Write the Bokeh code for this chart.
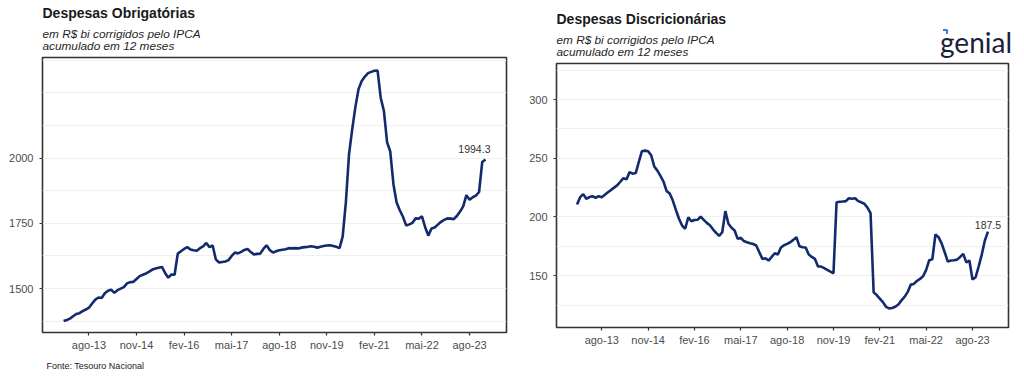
import pandas as pd
from bokeh.plotting import figure
from bokeh.layouts import row, column
from bokeh.models import ColumnDataSource, FixedTicker, Range1d, Label
from bokeh.core.properties import value
from bokeh.embed import file_html
from bokeh.resources import INLINE

# ---------------- data ----------------
dates = pd.date_range("2012-12-01", "2024-01-01", freq="MS")  # 134 months

obrigatorias = [
    1376, 1380, 1385, 1394, 1403, 1406, 1414, 1420, 1427, 1443,
    1458, 1466, 1464, 1482, 1492, 1496, 1484, 1494, 1500, 1506,
    1520, 1525, 1526, 1537, 1548, 1553, 1558, 1565, 1573, 1577,
    1580, 1583, 1560, 1542, 1554, 1553, 1634, 1643, 1652, 1659,
    1650, 1647, 1645, 1655, 1662, 1675, 1659, 1665, 1612, 1600,
    1602, 1604, 1609, 1625, 1638, 1635, 1641, 1648, 1652, 1640,
    1631, 1633, 1634, 1652, 1666, 1648, 1638, 1643, 1647, 1649,
    1651, 1655, 1654, 1655, 1654, 1657, 1659, 1660, 1662, 1660,
    1657, 1660, 1663, 1665, 1666, 1663, 1660, 1655, 1700, 1830,
    2015, 2110, 2195, 2264, 2295, 2312, 2325, 2330, 2334, 2335,
    2230, 2180, 2060, 2025, 1900, 1830, 1800, 1775, 1742, 1746,
    1752, 1769, 1768, 1777, 1735, 1703, 1730, 1734, 1745, 1756,
    1763, 1769, 1768, 1766, 1778, 1795, 1815, 1858, 1840, 1850,
    1856, 1870, 1985, 1994.3,
]

discricionarias = [
    210.7, 216.9, 219.5, 215.5, 217.0, 217.7, 216.4, 217.7, 216.9, 219.0,
    221.0, 223.0, 225.0, 227.0, 230.0, 233.1, 232.0, 238.2, 236.9, 237.4,
    247.0, 256.0, 256.5, 256.0, 252.5, 243.0, 239.5, 235.0, 230.0, 222.0,
    220.0, 214.0, 206.0, 198.5, 192.7, 190.0, 199.8, 196.4, 197.5, 197.6,
    200.4, 197.5, 195.0, 193.0, 189.5, 186.5, 184.0, 187.0, 205.0, 194.2,
    190.8, 188.5, 181.4, 182.3, 179.5, 178.5, 177.6, 177.0, 175.7, 170.0,
    164.3, 164.8, 162.9, 166.0, 169.1, 168.0, 174.0, 176.0, 177.1, 178.5,
    180.5, 182.8, 175.0, 174.2, 174.0, 168.0, 166.0, 164.3, 157.8, 157.8,
    156.5, 155.0, 153.5, 152.1, 212.6, 213.0, 213.2, 213.5, 216.0, 215.5,
    216.0, 213.5, 212.5, 211.3, 208.0, 203.2, 135.8, 133.5, 130.5, 127.5,
    123.5, 122.2, 122.5, 123.6, 125.5, 129.0, 132.0, 136.0, 142.4, 143.0,
    145.5, 147.3, 149.5, 155.0, 163.2, 164.0, 185.1, 182.8, 177.5, 170.0,
    162.0, 162.9, 163.2, 163.7, 166.0, 168.6, 161.4, 162.9, 146.7, 148.7,
    158.0, 168.0, 180.0, 187.5,
]

tick_dates = ["2013-08", "2014-11", "2016-02", "2017-05", "2018-08",
              "2019-11", "2021-02", "2022-05", "2023-08"]
tick_labels = ["ago-13", "nov-14", "fev-16", "mai-17", "ago-18",
               "nov-19", "fev-21", "mai-22", "ago-23"]

obrig_ticks = [1500, 1750, 2000]
discr_ticks = [150, 200, 250, 300]

title_left = "Despesas Obrigatórias"
title_right = "Despesas Discricionárias"
subtitle = ["em R$ bi corrigidos pelo IPCA", "acumulado em 12 meses"]
source_note = "Fonte: Tesouro Nacional"
logo_text = "genial"

# ---------------- styling ----------------
LINE = "#132a6c"
FONT = "Liberation Sans"
TXT = "#4d4d4d"
SHIFT = 0.33  # baseline correction (fraction of font size)

months = list(range(len(dates)))
month_key = [d.strftime("%Y-%m") for d in dates]
tick_pos = [month_key.index(t) for t in tick_dates]


def strip(width, height):
    """A text-only figure whose frame covers the whole area (pixel coords, y down)."""
    s = figure(width=width, height=height, output_backend="svg",
               toolbar_location=None, x_axis_type=None, y_axis_type=None,
               x_range=Range1d(0, width), y_range=Range1d(height, 0),
               min_border=0, min_border_left=0, min_border_right=0,
               min_border_top=0, min_border_bottom=0, frame_align=False)
    s.outline_line_color = None
    s.background_fill_color = "white"
    s.border_fill_color = "white"
    s.grid.visible = False
    return s


def header(width, height, fx, base, title):
    s = strip(width, height)
    s.text(x=[fx], y=[base - 40 - SHIFT * 14], text=[title],
           text_font=value(FONT), text_font_size="14px",
           text_font_style="bold", text_color="#1a1a1a",
           text_baseline="alphabetic")
    s.text(x=[fx, fx],
           y=[base - 19.3 - SHIFT * 11.8, base - 7.8 - SHIFT * 11.8],
           text=subtitle, text_font=value(FONT), text_font_size="11.8px",
           text_font_style="italic", text_color="#262626",
           text_baseline="alphabetic")
    return s


def chart(values, ylo, yhi, yticks, gridstep, width, height, fl, fr, fb,
          end_label, lab_off):
    p = figure(width=width, height=height, output_backend="svg",
               toolbar_location=None, frame_align=False,
               x_range=Range1d(-6.65, len(values) - 1 + 6.65),
               y_range=Range1d(ylo, yhi),
               min_border_left=fl, min_border_right=fr,
               min_border_top=2, min_border_bottom=fb)
    p.background_fill_color = "white"
    p.border_fill_color = "white"
    p.outline_line_color = "#333333"
    p.outline_line_width = 1.6

    src = ColumnDataSource(dict(x=months, y=values))
    p.line("x", "y", source=src, line_color=LINE, line_width=2.6)

    for ax in (p.xaxis[0], p.yaxis[0]):
        ax.axis_line_color = None
        ax.major_tick_line_color = "#333333"
        ax.major_tick_line_width = 1.2
        ax.major_tick_out = 3
        ax.major_tick_in = 0
        ax.minor_tick_line_color = None
        ax.major_label_text_font = FONT
        ax.major_label_text_font_size = "11px"
        ax.major_label_text_color = TXT
    p.xaxis.ticker = FixedTicker(ticks=tick_pos)
    p.xaxis.major_label_overrides = {pos: lab for pos, lab in zip(tick_pos, tick_labels)}
    p.xaxis.major_label_standoff = 3
    p.yaxis.ticker = FixedTicker(ticks=yticks)
    p.yaxis.major_label_standoff = 6

    p.xgrid.visible = False
    grid = []
    v = yticks[0] - gridstep
    while v < yhi:
        grid.append(v)
        v += gridstep
    p.ygrid.ticker = FixedTicker(ticks=grid)
    p.ygrid.grid_line_color = "#f0f0f0"
    p.ygrid.grid_line_width = 1

    p.add_layout(Label(x=len(values) - 1, y=values[-1], text=end_label,
                       text_align="center", text_baseline="alphabetic",
                       x_offset=lab_off[0], y_offset=lab_off[1],
                       text_font=FONT, text_font_size="10.5px",
                       text_color="#333333"))
    return p


# ---- left column: header (0-55), chart (55-360), source note (360-377)
left_head = header(520, 55, 42, 57, title_left)
left = chart(obrigatorias, 1332, 2385, obrig_ticks, 125, 520, 305,
             42, 14, 28, "1994.3", (-11, 10.5))
left_foot = strip(520, 17)
left_foot.text(x=[46], y=[8.5 - SHIFT * 9], text=[source_note],
               text_font=value(FONT), text_font_size="9px",
               text_color="#1a1a1a", text_baseline="alphabetic")

# ---- right column: header (0-61), chart (61-377)
right_head = header(504, 61, 36, 63, title_right)
right_head.text(x=[491.5], y=[50.7 - SHIFT * 28], text=[logo_text],
                text_font=value("Lato"), text_font_size="28px",
                text_color="#1b1e3c", text_align="right",
                text_baseline="alphabetic")
right_head.line(x=[422.5, 426.5, 426.5], y=[29.5, 29.5, 33.5],
                line_color="#2f80ed", line_width=2)
right = chart(discricionarias, 105.9, 330.7, discr_ticks, 25, 504, 316,
              36, 16, 50, "187.5", (0, 6.5))

layout = row(column(left_head, left, left_foot, spacing=0),
             column(right_head, right, spacing=0), spacing=0)
open("out.html", "w").write(file_html(layout, INLINE))
